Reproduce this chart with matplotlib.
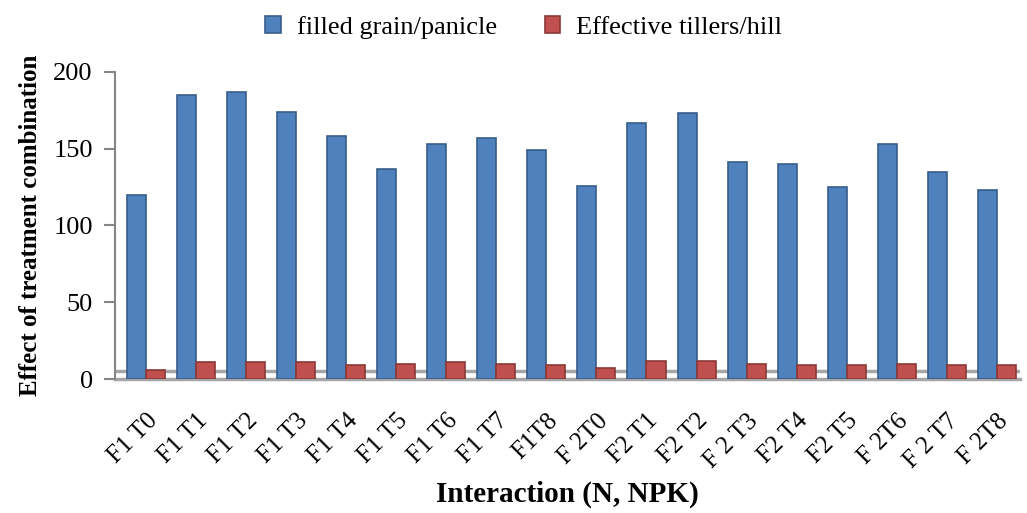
"""Interaction of N and NPK on filled grain/panicle and effective tillers/hill."""

import numpy as np
import matplotlib.pyplot as plt

plt.rcParams['font.family'] = ['Liberation Serif', 'DejaVu Serif']

treatments = ["F1 T0", "F1 T1", "F1 T2", "F1 T3", "F1 T4", "F1 T5", "F1 T6", "F1 T7", "F1T8",
              "F 2T0", "F2 T1", "F2 T2", "F 2 T3", "F2 T4", "F2 T5", "F 2T6", "F 2 T7", "F 2T8"]
filled_grain = [120, 185, 187, 174, 158, 137, 153, 157, 149,
                126, 167, 173, 141, 140, 125, 153, 135, 123]
tillers = [6, 11, 11, 11, 9, 10, 11, 10, 9,
           7, 12, 12, 10, 9, 9, 10, 9, 9]

fig = plt.figure(figsize=(10.27, 5.13), dpi=100)
ax = fig.add_axes([0.112, 0.261, 0.881, 0.599])

x = np.arange(len(treatments))
w = 0.38

# 3D-ish floor
ax.axhline(5, color="#A6A6A6", lw=2.5, zorder=1)
ax.axhline(0, color="#A6A6A6", lw=2.5, zorder=1, clip_on=False)

ax.bar(x - w / 2, filled_grain, w, color="#4F81BD", edgecolor="#385D8A", lw=1.2,
       label="filled grain/panicle", zorder=3)
ax.bar(x + w / 2, tillers, w, color="#C0504D", edgecolor="#8C3836", lw=1.2,
       label="Effective tillers/hill", zorder=3)

ax.set_xlim(-0.62, 17.46)
ax.set_ylim(0, 200)
ax.set_yticks([0, 50, 100, 150, 200])
ax.tick_params(axis='y', labelsize=19, color="#868686", length=8, width=1.5, pad=8)
ax.set_xticks(x)
ax.set_xticklabels(treatments, rotation=45, ha='right', rotation_mode='anchor', fontsize=18)
ax.tick_params(axis='x', length=0, pad=22)

for s in ['top', 'right', 'bottom']:
    ax.spines[s].set_visible(False)
ax.spines['left'].set_color("#868686")
ax.spines['left'].set_linewidth(1.5)

ax.set_ylabel("Effect of treatment combination", fontsize=18, fontweight='bold', labelpad=8)
ax.set_xlabel("Interaction (N, NPK)", fontsize=21, fontweight='bold', labelpad=6)

fig.legend(loc='upper center', bbox_to_anchor=(0.51, 1.015), ncol=2, frameon=False,
           fontsize=19, handlelength=0.6, handleheight=0.6, columnspacing=1.8, handletextpad=0.6)

plt.savefig("out.png", dpi=100)
plt.close()
